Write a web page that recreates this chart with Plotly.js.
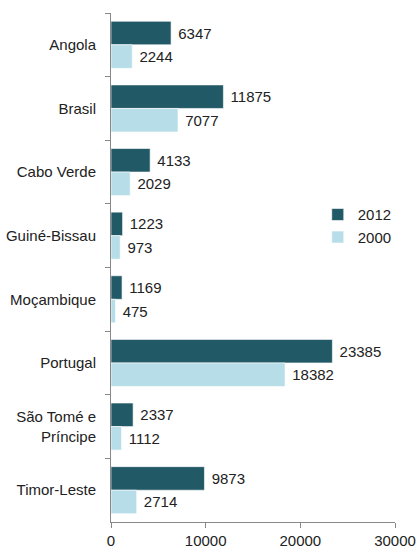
<!DOCTYPE html>
<html>
<head>
<meta charset="utf-8">
<script src="https://cdn.plot.ly/plotly-3.0.1.min.js"></script>
<style>html,body{margin:0;padding:0;background:#fff;}#chart{width:419px;height:551px;}</style>
</head>
<body>
<div id="chart"></div>
<script>
const categories = ["Angola", "Brasil", "Cabo Verde", "Guiné-Bissau", "Moçambique", "Portugal", "São Tomé e<br>Príncipe", "Timor-Leste"];
const values2012 = [6347, 11875, 4133, 1223, 1169, 23385, 2337, 9873];
const values2000 = [2244, 7077, 2029, 973, 475, 18382, 1112, 2714];
const tickVals = [0, 10000, 20000, 30000];

const FONT = "'Liberation Sans', Arial, sans-serif";

const traces = [
  {
    type: 'bar', orientation: 'h', name: '2012', legendgroup: 'a',
    y: categories, x: values2012,
    text: values2012.map(v => '\u00a0' + v), textposition: 'outside', cliponaxis: false,
    textfont: {family: FONT, size: 15, color: '#222'},
    marker: {color: '#225966', line: {color: '#ffffff', width: 0.6}}
  },
  {
    type: 'bar', orientation: 'h', name: '2000', legendgroup: 'b',
    y: categories, x: values2000,
    text: values2000.map(v => '\u00a0' + v), textposition: 'outside', cliponaxis: false,
    textfont: {family: FONT, size: 15, color: '#222'},
    marker: {color: '#b7dee8', line: {color: '#ffffff', width: 0.6}}
  }
];

const layout = {
  width: 419, height: 551,
  margin: {l: 111, r: 24, t: 13, b: 29, pad: 0},
  paper_bgcolor: '#fff', plot_bgcolor: '#fff',
  font: {family: FONT, size: 15, color: '#222'},
  barmode: 'group', bargap: 0.26, bargroupgap: 0,
  showlegend: true,
  legend: {x: 0.728, y: 0.636, xanchor: 'left', yanchor: 'top', traceorder: 'normal',
           tracegroupgap: 19, font: {family: FONT, size: 15, color: '#222'}, bgcolor: 'rgba(0,0,0,0)'},
  xaxis: {
    range: [0, 30000], tickvals: tickVals, ticktext: tickVals.map(String),
    showgrid: false, zeroline: false, showline: true, linecolor: '#888', linewidth: 1,
    ticks: 'outside', ticklen: 5, tickcolor: '#888',
    tickfont: {family: FONT, size: 15, color: '#222'}, fixedrange: true
  },
  yaxis: {
    autorange: 'reversed', type: 'category',
    showgrid: false, zeroline: false, showline: true, linecolor: '#888', linewidth: 1,
    ticks: 'outside', tickson: 'boundaries', ticklen: 5, tickcolor: '#888',
    ticklabelstandoff: 11,
    tickfont: {family: FONT, size: 15, color: '#222'}
  }
};

Plotly.newPlot('chart', traces, layout, {displayModeBar: false, staticPlot: true});
</script>
</body>
</html>
